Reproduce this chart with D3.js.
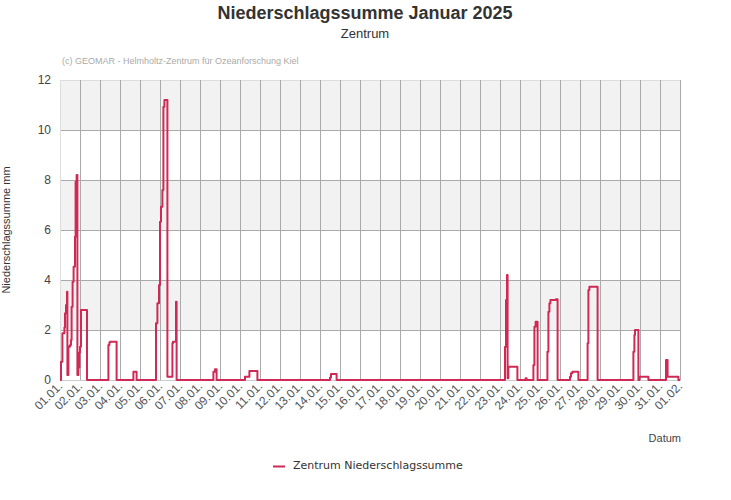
<!DOCTYPE html>
<html><head><meta charset="utf-8">
<script src="https://cdn.jsdelivr.net/npm/d3@7"></script>
<style>body{margin:0;background:#fff}svg{display:block}</style>
</head><body>
<script>
// time offsets in days since 01.01.2025 00:00, values in mm (step-after)
const dayOffsets = [0,0.05,0.12,0.22,0.25,0.3,0.35,0.37,0.42,0.5,0.55,0.58,0.63,0.68,0.75,0.78,0.83,0.87,0.92,0.97,1.0,1.05,1.35,
  2.42,2.47,2.5,2.83,
  3.67,3.83,
  4.8,4.87,4.95,5.0,5.05,5.12,5.17,5.22,5.37,5.62,5.65,5.8,5.83,
  7.67,7.75,7.83,
  9.25,9.47,9.87,
  13.5,13.55,13.83,
  22.25,22.3,22.35,22.38,22.42,22.87,
  23.28,23.33,
  23.67,23.72,23.78,23.88,
  24.37,24.42,24.47,24.52,24.8,24.88,
  25.5,25.55,25.62,25.92,
  26.38,26.42,26.47,26.88,
  28.67,28.72,28.75,28.92,28.97,29.42,
  30.3,30.38,30.92,31.0];
const precipMm = [0,0.73,1.87,2.1,2.67,3.0,3.53,0.2,1.33,1.4,1.6,2.93,3.93,4.53,5.73,7.93,8.2,0.2,0.5,1.1,1.33,2.8,0,
  1.4,1.5,1.53,0,
  0.33,0,
  2.27,3.07,3.8,6.33,6.93,7.6,10.93,11.2,0.13,1.47,1.53,3.13,0,
  0.33,0.43,0,
  0.13,0.36,0,
  0.1,0.24,0,
  1.33,3.2,4.2,0.07,0.53,0,
  0.07,0,
  0.6,2.13,2.33,0,
  1.13,2.73,3.07,3.2,3.23,0,
  0.13,0.27,0.33,0,
  1.47,3.6,3.73,0,
  1.13,1.8,2.0,0,0.13,0,
  0.8,0.13,0,0];
const yTicks = [0,2,4,6,8,10,12];
const dayTicks = d3.range(0,32);

const W=731,H=500;
const x0=60,x1=680,y0=380,y1=80;
const start = Date.UTC(2025,0,1);
const toDate = d => new Date(start + d*86400000);

const svg=d3.select("body").append("svg").attr("width",W).attr("height",H);
const x=d3.scaleUtc().domain([toDate(0),toDate(31)]).range([x0,x1]);
const y=d3.scaleLinear().domain([0,12]).range([y0,y1]);

// bands
[[2,4],[6,8],[10,12]].forEach(b=>{
  svg.append("rect").attr("x",x0).attr("width",x1-x0+1).attr("y",y(b[1])).attr("height",y(b[0])-y(b[1])).attr("fill","#f2f2f2");
});
// horizontal grid
svg.append("g").selectAll("line").data(yTicks.filter(v=>v>0&&v<12)).join("line")
  .attr("x1",x0).attr("x2",x1+1).attr("y1",d=>y(d)+0.5).attr("y2",d=>y(d)+0.5).attr("stroke","#aaa");
svg.append("line").attr("x1",x0).attr("x2",x1+1).attr("y1",y1+0.5).attr("y2",y1+0.5).attr("stroke","#ddd");
// vertical grid
svg.append("g").selectAll("line").data(dayTicks.slice(1)).join("line")
  .attr("x1",d=>x(toDate(d))+0.5).attr("x2",d=>x(toDate(d))+0.5).attr("y1",y1).attr("y2",y0).attr("stroke","#aaa");
svg.append("line").attr("x1",x0+0.5).attr("x2",x0+0.5).attr("y1",y1).attr("y2",y0).attr("stroke","#ddd");
svg.append("line").attr("x1",x0).attr("x2",x1+1).attr("y1",y0+0.5).attr("y2",y0+0.5).attr("stroke","#ccc");

// y labels
svg.append("g").selectAll("text").data(yTicks).join("text")
  .attr("x",51).attr("y",d=>y(d)+4).attr("text-anchor","end")
  .attr("font-family","Liberation Sans, Arial, sans-serif").attr("font-size",12).attr("fill","#444").text(d=>d);
// x labels
const fmt=d3.utcFormat("%d.%m.");
svg.append("g").selectAll("text").data(dayTicks).join("text")
  .attr("transform",d=>`translate(${x(toDate(d))+3},${y0+7}) rotate(-45)`)
  .attr("text-anchor","end")
  .attr("font-family","Liberation Sans, Arial, sans-serif").attr("font-size",12).attr("fill","#555")
  .text(d=>fmt(toDate(d)));

// line
const data=dayOffsets.map((d,i)=>({t:toDate(d),v:precipMm[i]}));
svg.append("path").datum(data)
  .attr("d",d3.line().x(d=>x(d.t)).y(d=>y(d.v)).curve(d3.curveStepAfter))
  .attr("fill","none").attr("stroke","#cf2a55").attr("stroke-width",2).attr("stroke-linejoin","round");

// titles
svg.append("text").attr("x",365).attr("y",19).attr("text-anchor","middle")
  .attr("font-family","Liberation Sans, Arial, sans-serif").attr("font-size",18).attr("font-weight","bold").attr("fill","#333")
  .text("Niederschlagssumme Januar 2025");
svg.append("text").attr("x",365).attr("y",38).attr("text-anchor","middle")
  .attr("font-family","Liberation Sans, Arial, sans-serif").attr("font-size",13).attr("fill","#333").text("Zentrum");
svg.append("text").attr("x",62).attr("y",64)
  .attr("font-family","Liberation Sans, Arial, sans-serif").attr("font-size",9).attr("fill","#aaa")
  .text("(c) GEOMAR - Helmholtz-Zentrum für Ozeanforschung Kiel");
svg.append("text").attr("transform","translate(10,230) rotate(-90)").attr("text-anchor","middle")
  .attr("font-family","Liberation Sans, Arial, sans-serif").attr("font-size",11).attr("fill","#333")
  .text("Niederschlagssumme mm");
svg.append("text").attr("x",681).attr("y",442).attr("text-anchor","end")
  .attr("font-family","Liberation Sans, Arial, sans-serif").attr("font-size",11).attr("fill","#444").text("Datum");
// legend
svg.append("line").attr("x1",273).attr("x2",285).attr("y1",466.5).attr("y2",466.5).attr("stroke","#cf2a55").attr("stroke-width",2);
svg.append("text").attr("x",293).attr("y",469)
  .attr("font-family","DejaVu Sans, Verdana, sans-serif").attr("font-size",11).attr("fill","#333")
  .text("Zentrum Niederschlagssumme");
</script>
</body></html>
